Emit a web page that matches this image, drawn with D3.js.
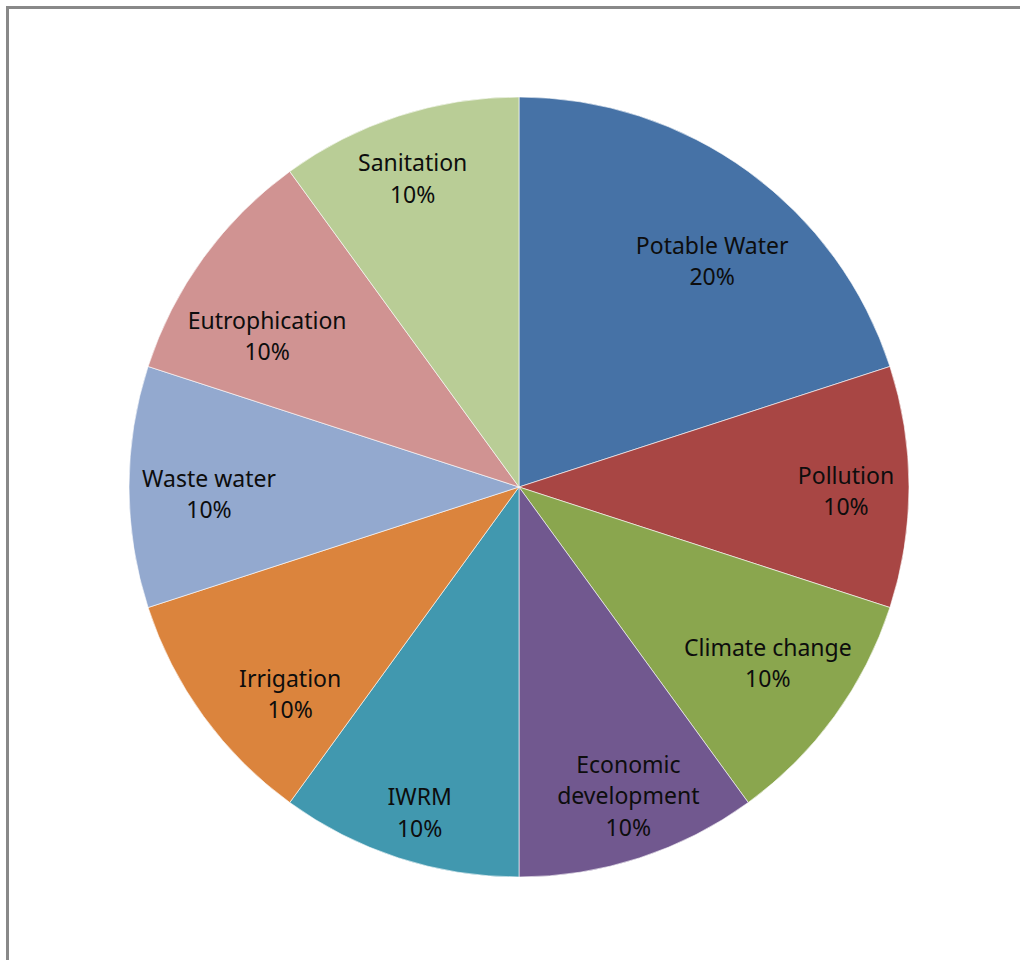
<!DOCTYPE html>
<html>
<head>
<meta charset="utf-8">
<script src="https://cdn.jsdelivr.net/npm/d3@7"></script>
<style>
  body { margin: 0; background: #fff; }
</style>
</head>
<body>
<div id="pie-chart"></div>
<script>
// Pie chart data
const categories = ["Potable Water", "Pollution", "Climate change", "Economic development",
                    "IWRM", "Irrigation", "Waste water", "Eutrophication", "Sanitation"];
const values = [20, 10, 10, 10, 10, 10, 10, 10, 10];
const colors = ["#4672A6", "#A84644", "#8AA64E", "#71588F", "#4198AF",
                "#DB843D", "#93A9CF", "#D09392", "#B9CD96"];
// label lines (Excel wraps long names)
const labelLines = [["Potable Water"], ["Pollution"], ["Climate change"], ["Economic", "development"],
                    ["IWRM"], ["Irrigation"], ["Waste water"], ["Eutrophication"], ["Sanitation"]];

const width = 1020, height = 960;
const cx = 519, cy = 487, radius = 390;

// small "best fit" nudges for the data labels, like Excel places them
const labelNudge = [[8, 30], [12, 5], [-6, -8], [12, 10], [-2, 27],
                    [26, 23], [5, 8], [3, 35], [-9, -8]];

const svg = d3.select("#pie-chart")
    .append("svg")
    .attr("width", width)
    .attr("height", height);

// chart area border
svg.append("rect")
    .attr("x", 7.5)
    .attr("y", 7.5)
    .attr("width", width + 20)
    .attr("height", height + 20)
    .attr("fill", "#fff")
    .attr("stroke", "#898989")
    .attr("stroke-width", 3);

const data = categories.map((c, i) => ({name: c, value: values[i], lines: labelLines[i]}));

const pie = d3.pie()
    .value(d => d.value)
    .sort(null);

const arc = d3.arc()
    .innerRadius(0)
    .outerRadius(radius);

const labelArc = d3.arc()
    .innerRadius(315)
    .outerRadius(315);

const total = d3.sum(values);

const g = svg.append("g")
    .attr("transform", `translate(${cx},${cy})`);

g.selectAll("path.slice")
    .data(pie(data))
    .enter()
    .append("path")
    .attr("class", "slice")
    .attr("d", arc)
    .attr("fill", (d, i) => colors[i])
    .attr("stroke", "#fff")
    .attr("stroke-opacity", 0.6)
    .attr("stroke-width", 1);

const labels = g.selectAll("text.label")
    .data(pie(data))
    .enter()
    .append("text")
    .attr("class", "label")
    .attr("transform", (d, i) => {
        const [x, y] = labelArc.centroid(d);
        return `translate(${x + labelNudge[i][0]},${y + labelNudge[i][1]})`;
    })
    .attr("text-anchor", "middle")
    .style("font-family", "'Noto Sans', sans-serif")
    .style("font-size", "23px")
    .style("fill", "#0d0d0d");

labels.each(function(d) {
    const t = d3.select(this);
    const lines = d.data.lines.concat([Math.round(d.data.value / total * 100) + "%"]);
    const lh = 31.5;
    const y0 = -(lines.length - 1) * lh / 2 + 7.5;
    lines.forEach((l, k) => {
        t.append("tspan")
            .attr("x", 0)
            .attr("y", y0 + k * lh)
            .text(l);
    });
});
</script>
</body>
</html>
